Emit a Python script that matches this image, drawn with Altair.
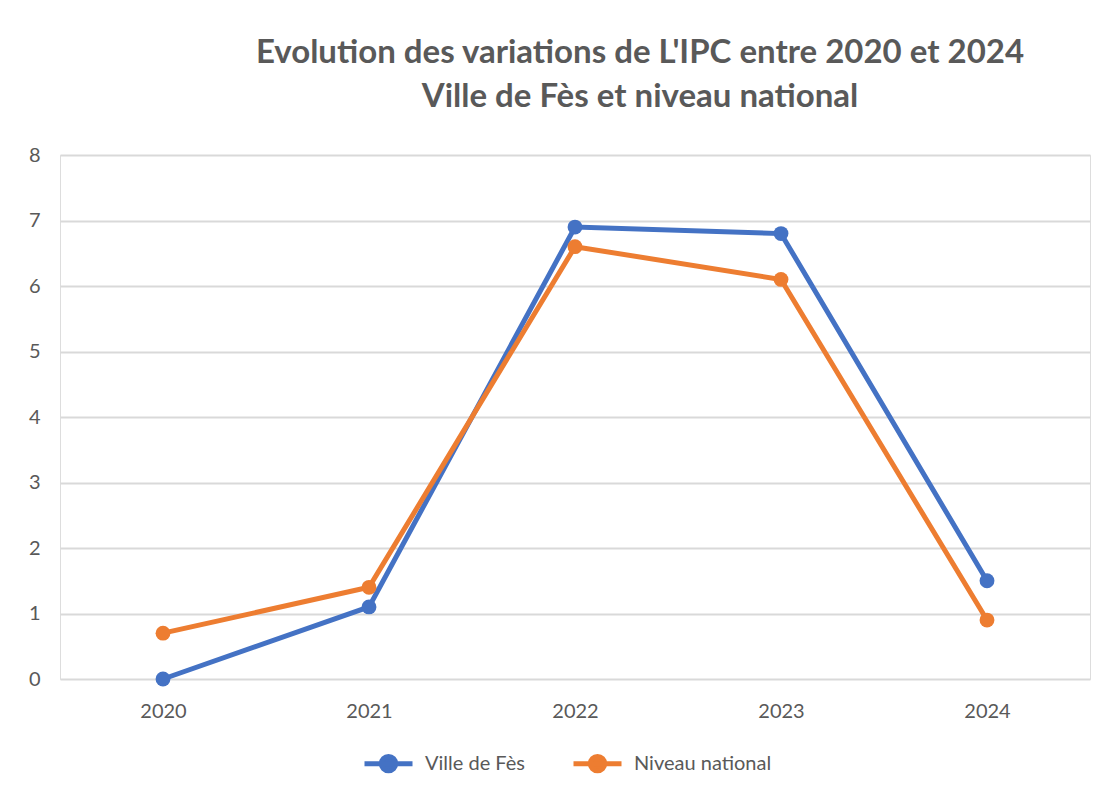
import altair as alt
import pandas as pd

years = ["2020", "2021", "2022", "2023", "2024"]
fes = [0.0, 1.1, 6.9, 6.8, 1.5]
national = [0.7, 1.4, 6.6, 6.1, 0.9]
series_names = ["Ville de Fès", "Niveau national"]
colors = ["#4472C4", "#ED7D31"]

rows = []
for y, v in zip(years, fes):
    rows.append({"Année": y, "Série": series_names[0], "Valeur": v})
for y, v in zip(years, national):
    rows.append({"Année": y, "Série": series_names[1], "Valeur": v})
df = pd.DataFrame(rows)

font = "Lato"
grey = "#595959"

legend_path = "M-1,0H1M-0.3,0a0.3,0.3 0 1,0 0.6,0a0.3,0.3 0 1,0 -0.6,0Z"

chart = alt.Chart(df).mark_line(
    strokeWidth=5,
    point=alt.OverlayMarkDef(size=220, filled=True, opacity=1),
).encode(
    x=alt.X("Année:N", sort=years, title=None,
            scale=alt.Scale(paddingInner=1, paddingOuter=0.5),
            axis=alt.Axis(labelAngle=0, labelFont=font, labelFontSize=20,
                          labelColor=grey, labelPadding=22, ticks=False,
                          domain=False, grid=False)),
    y=alt.Y("Valeur:Q", title=None,
            scale=alt.Scale(domain=[0, 8], nice=False),
            axis=alt.Axis(values=list(range(0, 9)), labelFont=font,
                          labelFontSize=20, labelColor=grey, labelPadding=20,
                          ticks=False, domain=False, gridColor="#D9D9D9",
                          gridWidth=2)),
    color=alt.Color("Série:N", sort=series_names,
                    scale=alt.Scale(domain=series_names, range=colors),
                    legend=alt.Legend(title=None, orient="none",
                                      legendX=302, legendY=582,
                                      direction="horizontal",
                                      labelFont=font, labelFontSize=20,
                                      labelColor=grey, symbolType=legend_path,
                                      symbolSize=2304, symbolStrokeWidth=5,
                                      symbolOffset=0, columnPadding=38,
                                      labelOffset=10)),
).properties(
    width=1030,
    height=524,
    title=alt.TitleParams(
        text=["Evolution des variations de L'IPC entre 2020 et 2024",
              "Ville de Fès et niveau national"],
        font=font, fontSize=33, fontWeight="bold", color=grey,
        anchor="middle", dx=65, offset=31, lineHeight=44,
    ),
    autosize=alt.AutoSizeParams(type="none"),
    padding={"left": 52, "top": 147, "right": 11, "bottom": 110},
).configure_view(stroke=None).configure(background="white")

chart.save("out.html", embed_options={"renderer": "svg", "actions": False})
